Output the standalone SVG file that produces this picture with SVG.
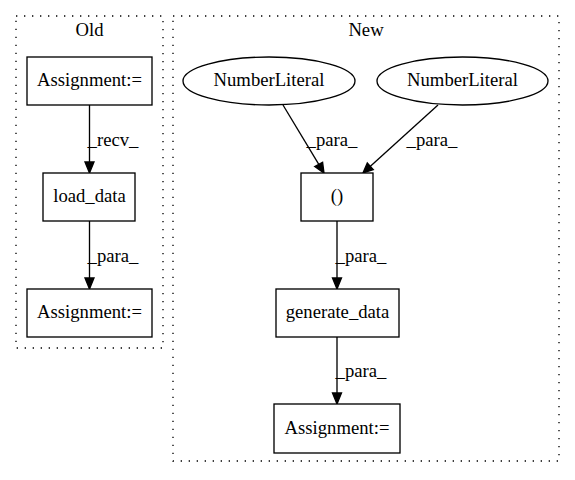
<svg xmlns="http://www.w3.org/2000/svg" width="575" height="480" viewBox="0 0 575 480">
<style>
text{font-family:"Liberation Serif","Times New Roman",serif;font-size:18.67px;fill:#000}
.c{text-anchor:middle}
.cl{fill:none;stroke:#000;stroke-width:1.33;stroke-dasharray:1.33,6.67}
.n{fill:#fff;stroke:#000;stroke-width:1.33}
.e{fill:none;stroke:#000;stroke-width:1.33}
.a{fill:#000;stroke:#000;stroke-width:1.33}
</style>
<rect width="575" height="480" fill="#fff"/>
<g id="cluster_old">
<rect class="cl" x="16" y="16" width="147" height="332"/>
<text class="c" x="89.5" y="36">Old</text>
</g>
<g id="cluster_new">
<rect class="cl" x="173" y="16" width="386" height="445"/>
<text class="c" x="366" y="36">New</text>
</g>
<g id="connectors">
<path class="e" d="M89.5,105 L89.5,163"/>
<polygon class="a" points="85,162 89.5,173 94,162"/>
<text class="c" x="113" y="146">_recv_</text>
<path class="e" d="M89.5,221 L89.5,279"/>
<polygon class="a" points="85,278 89.5,289 94,278"/>
<text class="c" x="113" y="262">_para_</text>
<path class="e" d="M283,105 L318.8,164.4"/>
<polygon class="a" points="314.7,166.5 324,173 322.6,162.2"/>
<text class="c" x="332" y="146">_para_</text>
<path class="e" d="M438,105 L370.4,166.3"/>
<polygon class="a" points="373.3,169.6 363,173 367.3,163"/>
<text class="c" x="432" y="146">_para_</text>
<path class="e" d="M337,221 L337,279"/>
<polygon class="a" points="332.5,278 337,289 341.5,278"/>
<text class="c" x="361" y="262">_para_</text>
<path class="e" d="M337,337 L337,394"/>
<polygon class="a" points="332.5,393 337,404 341.5,393"/>
<text class="c" x="361" y="377">_para_</text>
</g>
<g id="old_assign1">
<rect class="n" x="27" y="57" width="125" height="48"/>
<text class="c" x="89.5" y="86">Assignment:=</text>
</g>
<g id="old_load_data">
<rect class="n" x="43" y="173" width="92" height="48"/>
<text class="c" x="89.5" y="202">load_data</text>
</g>
<g id="old_assign2">
<rect class="n" x="27" y="289" width="125" height="48"/>
<text class="c" x="89.5" y="318">Assignment:=</text>
</g>
<g id="new_num1">
<ellipse class="n" cx="269" cy="81" rx="86" ry="24"/>
<text class="c" x="269" y="86">NumberLiteral</text>
</g>
<g id="new_num2">
<ellipse class="n" cx="462.5" cy="81" rx="85.5" ry="24"/>
<text class="c" x="462.5" y="86">NumberLiteral</text>
</g>
<g id="new_tuple">
<rect class="n" x="301" y="173" width="72" height="48"/>
<text class="c" x="337" y="202">()</text>
</g>
<g id="new_generate_data">
<rect class="n" x="276" y="289" width="123" height="48"/>
<text class="c" x="337.5" y="318">generate_data</text>
</g>
<g id="new_assign">
<rect class="n" x="274" y="404" width="126" height="49"/>
<text class="c" x="337" y="433.5">Assignment:=</text>
</g>
</svg>
